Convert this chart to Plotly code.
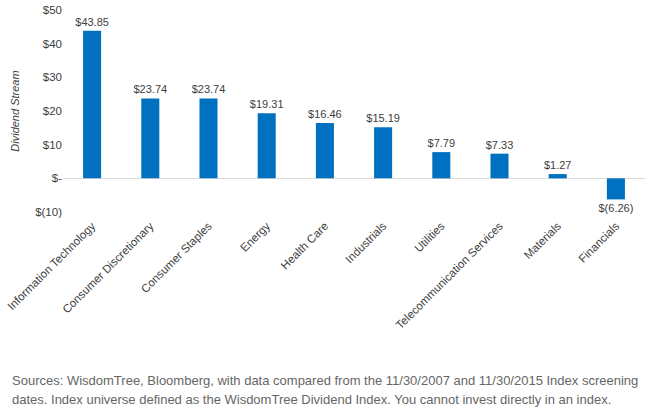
import plotly.graph_objects as go

categories = ["Information Technology", "Consumer Discretionary", "Consumer Staples", "Energy",
              "Health Care", "Industrials", "Utilities", "Telecommunication Services",
              "Materials", "Financials"]
values = [43.85, 23.74, 23.74, 19.31, 16.46, 15.19, 7.79, 7.33, 1.27, -6.26]
tick_vals = [-10, 0, 10, 20, 30, 40, 50]
tick_text = ["$(10)", "$-", "$10", "$20", "$30", "$40", "$50"]

def fmt(v):
    return f"${v:.2f}" if v >= 0 else f"$({abs(v):.2f})"

labels = [fmt(v) for v in values]

fig = go.Figure()
fig.add_trace(go.Bar(
    x=categories, y=values, width=0.31,
    marker=dict(color="#0070C0", line=dict(width=0)),
    text=labels, textposition="outside", cliponaxis=False, constraintext="none",
    textfont=dict(family="Liberation Sans", size=11, color="#404040"),
))

foot = dict(family="Liberation Sans", size=13, color="#666666")
fig.update_layout(
    width=653, height=415,
    margin=dict(l=63, r=8, t=10, b=203),
    paper_bgcolor="white", plot_bgcolor="white",
    showlegend=False,
    font=dict(family="Liberation Sans", size=11, color="#404040"),
    xaxis=dict(tickangle=-45, showgrid=False, showline=False, ticks="", automargin=False,
               ticklabelstandoff=4, ticklabeloverflow="allow",
               tickfont=dict(size=11.5, color="#404040")),
    yaxis=dict(range=[-10, 50], tickvals=tick_vals, ticktext=tick_text, automargin=False,
               ticklabeloverflow="allow",
               showgrid=False, zeroline=True, zerolinecolor="#D9D9D9", zerolinewidth=1,
               showline=False, ticks="", tickfont=dict(size=11.5, color="#404040")),
    annotations=[
        dict(text="<i>Dividend Stream</i>", textangle=-90,
             xref="paper", yref="paper", x=-0.083, y=0.5, xanchor="center", yanchor="middle",
             showarrow=False, font=dict(family="Liberation Sans", size=11, color="#404040")),
        dict(text="Sources: WisdomTree, Bloomberg, with data compared from the 11/30/2007 and 11/30/2015 Index screening",
             xref="paper", yref="paper", x=-0.091, y=-0.835, xanchor="left", yanchor="middle",
             showarrow=False, font=foot),
        dict(text="dates. Index universe defined as the WisdomTree Dividend Index. You cannot invest directly in an index.",
             xref="paper", yref="paper", x=-0.091, y=-0.93, xanchor="left", yanchor="middle",
             showarrow=False, font=foot),
    ],
)

fig.write_html("out.html", config={"displayModeBar": False},
               post_script="document.body.style.margin='0';")
